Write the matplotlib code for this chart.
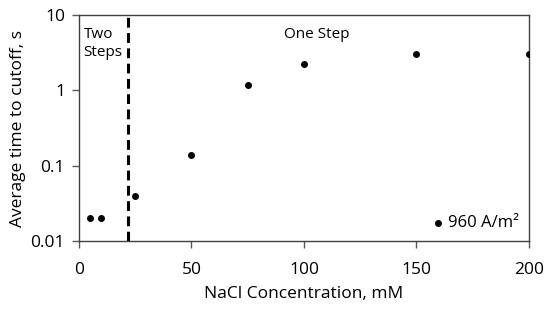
import matplotlib
matplotlib.use("Agg")
import matplotlib.pyplot as plt

# datos
nacl = [5, 10, 25, 50, 75, 100, 150, 200]
t_cutoff = [0.02, 0.02, 0.04, 0.14, 1.17, 2.25, 3.0, 3.0]
x_split = 22
xticks = [0, 50, 100, 150, 200]
yticks = [0.01, 0.1, 1, 10]
ytick_labels = ["0.01", "0.1", "1", "10"]

plt.rcParams['font.family'] = ['Open Sans', 'DejaVu Sans']

fig = plt.figure(figsize=(5.5, 3.09), dpi=100)
ax = fig.add_axes([0.1436, 0.22, 0.8182, 0.7315])

ax.scatter(nacl, t_cutoff, s=16, color='black', label='960 A/m²', zorder=3)
ax.axvline(x_split, color='black', lw=2.2, ls=(0, (3.2, 1.8)))

ax.set_yscale('log')
ax.set_xlim(0, 200)
ax.set_ylim(0.01, 10)
ax.set_xticks(xticks)
ax.set_yticks(yticks)
ax.set_yticklabels(ytick_labels)
ax.minorticks_off()
ax.tick_params(labelsize=12.5, length=5, width=1, direction='out',
               color='#595959', labelcolor='black')
ax.tick_params(axis='x', pad=10)
ax.tick_params(axis='y', pad=5)
for s in ax.spines.values():
    s.set_color('#404040')
    s.set_linewidth(1)

ax.set_xlabel("NaCl Concentration, mM", fontsize=12.5, labelpad=6)
ax.set_ylabel("Average time to cutoff, s", fontsize=12.5, labelpad=3)

ax.text(2, 7.0, "Two\nSteps", fontsize=11, va='top', ha='left', linespacing=1.3)
ax.text(91, 7.0, "One Step", fontsize=11, va='top', ha='left')

ax.legend(loc='lower right', frameon=False, fontsize=12, handletextpad=0.0,
          markerscale=1, borderaxespad=0.2, handlelength=1.2)

fig.savefig("out.png", dpi=100)
